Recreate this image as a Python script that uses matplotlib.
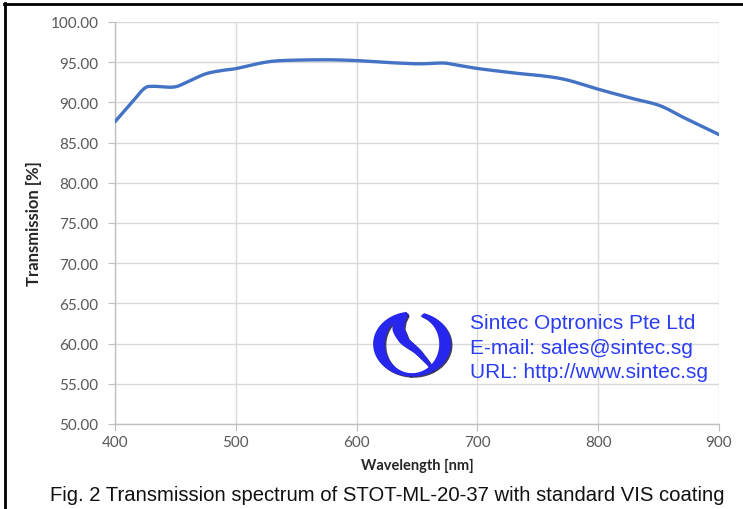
import numpy as np
import matplotlib
matplotlib.use("Agg")
import matplotlib.pyplot as plt
from matplotlib.patches import Polygon
from matplotlib.lines import Line2D

# ---- data ----
wavelength = [400, 414, 424, 431, 448, 458, 474, 488, 500, 521, 538, 574, 600,
              621, 651, 671, 681, 701, 734, 754, 774, 801, 828, 851, 871, 900]
transmission = [87.6, 90.0, 91.7, 92.0, 91.9, 92.4, 93.5, 93.96, 94.2, 94.9, 95.2,
                95.3, 95.2, 95.0, 94.8, 94.9, 94.7, 94.2, 93.6, 93.3, 92.8, 91.6,
                90.5, 89.6, 88.1, 86.0]
x_ticks = [400, 500, 600, 700, 800, 900]
y_ticks = [50, 55, 60, 65, 70, 75, 80, 85, 90, 95, 100]
x_label = "Wavelength [nm]"
y_label = "Transmission [%]"
caption = "Fig. 2 Transmission spectrum of STOT-ML-20-37 with standard VIS coating"
company_lines = ["Sintec Optronics Pte Ltd", "E-mail: sales@sintec.sg",
                 "URL: http://www.sintec.sg"]

W, H = 743, 510
fig = plt.figure(figsize=(W / 100, H / 100), dpi=100)

def fx(px):
    return px / W

def fy(py):
    return 1 - py / H

ax = fig.add_axes([fx(115), fy(425), fx(719) - fx(115), fy(23) - fy(425)])

def catmull(xs, ys, n=20):
    px, py = [], []
    P = list(zip(xs, ys))
    P = [P[0]] + P + [P[-1]]
    for i in range(1, len(P) - 2):
        p0, p1, p2, p3 = map(np.array, (P[i - 1], P[i], P[i + 1], P[i + 2]))
        for t in np.linspace(0, 1, n, endpoint=False):
            t2, t3 = t * t, t * t * t
            pt = 0.5 * ((2 * p1) + (-p0 + p2) * t + (2 * p0 - 5 * p1 + 4 * p2 - p3) * t2
                        + (-p0 + 3 * p1 - 3 * p2 + p3) * t3)
            px.append(pt[0]); py.append(pt[1])
    px.append(P[-2][0]); py.append(P[-2][1])
    return px, py

sx, sy = catmull(wavelength, transmission)
ax.plot(sx, sy, color="#4472C4", lw=2.4, solid_capstyle="round", zorder=3)

ax.set_xlim(400, 900)
ax.set_ylim(50, 100)
ax.set_xticks(x_ticks)
ax.set_yticks(y_ticks)
ax.set_yticklabels([f"{v:.2f}" for v in y_ticks])
ax.grid(True, color="#D9D9D9", lw=1.0)
ax.set_axisbelow(True)
for s in ["top", "right"]:
    ax.spines[s].set_visible(False)
for s in ["left", "bottom"]:
    ax.spines[s].set_color("#BFBFBF")
    ax.spines[s].set_linewidth(1.0)
ax.tick_params(axis="y", length=5, color="#BFBFBF", labelsize=11, labelcolor="#595959", pad=7)
ax.tick_params(axis="x", length=5, color="#BFBFBF", labelsize=11, labelcolor="#595959", pad=3)
for lbl in ax.get_xticklabels() + ax.get_yticklabels():
    lbl.set_fontfamily("Lato")

ax.set_xlabel(x_label, fontsize=10.5, fontweight="bold", family="Lato", color="#262626", labelpad=6)
ax.set_ylabel(y_label, fontsize=12, fontweight="bold", family="Lato", color="#262626", labelpad=6)

# caption
fig.text(fx(387), fy(496), caption, ha="center", va="center", fontsize=14.6,
         family="Liberation Sans", color="#111111")

# company text
for i, t in enumerate(company_lines):
    fig.text(fx(470), fy(324 + i * 24.5), t, ha="left", va="center", fontsize=15,
             family="Liberation Sans", color="#2B3CF5")

# ---- logo ----
lax = fig.add_axes([fx(370), fy(380), fx(454) - fx(370), fy(310) - fy(380)])
lax.set_xlim(-1.08, 1.08)
lax.set_ylim(-1.08, 1.08)
lax.axis("off")
BLUE, DARK = "#2626EE", "#0A0A3A"

shapes = []
# left arc
t1 = np.radians(np.linspace(98, 268, 80))
outer = np.c_[np.cos(t1), np.sin(t1)]
t2 = t1[::-1]
inner = np.c_[0.0 + 0.70 * np.cos(t2), 0.90 * np.sin(t2)]
shapes.append(np.vstack([outer, inner]))
# right arc
t1 = np.radians(np.linspace(72, -95, 80))
outer = np.c_[np.cos(t1), np.sin(t1)]
t2 = t1[::-1]
inner = np.c_[0.0 + 0.70 * np.cos(t2), 0.90 * np.sin(t2)]
shapes.append(np.vstack([outer, inner]))
# S-shaped tail from the top of the left arc down to lower right
kx = np.array([-0.15, -0.33, -0.36, -0.21, 0.12, 0.42, 0.52])
ky = np.array([0.92, 0.72, 0.45, 0.1, -0.2, -0.6, -0.82])
kn = np.linspace(0, 1, len(kx))
s = np.linspace(0, 1, 80)
px = np.interp(s, kn, kx)
py = np.interp(s, kn, ky)
for _ in range(5):
    px[1:-1] = (px[:-2] + px[1:-1] + px[2:]) / 3
    py[1:-1] = (py[:-2] + py[1:-1] + py[2:]) / 3
dx, dy = np.gradient(px), np.gradient(py)
nrm = np.hypot(dx, dy)
nx, ny = -dy / nrm, dx / nrm
hw = 0.02 + 0.13 * np.clip((1 - s) / 0.6, 0, 1)
hw = np.where(s < 0.15, 0.06 + (0.15 - 0.06) * s / 0.15, hw)
shapes.append(np.vstack([np.c_[px + nx * hw, py + ny * hw],
                         np.c_[px - nx * hw, py - ny * hw][::-1]]))

for pts in shapes:
    lax.add_patch(Polygon(pts + np.array([0.04, -0.04]), closed=True,
                          facecolor=DARK, edgecolor="none", alpha=0.8))
for pts in shapes:
    lax.add_patch(Polygon(pts, closed=True, facecolor=BLUE, edgecolor="none"))

# outer border lines (top and left)
fig.add_artist(Line2D([fx(4), 1], [fy(5), fy(5)], color="black", lw=2.0))
fig.add_artist(Line2D([fx(5), fx(5)], [fy(4), 0], color="black", lw=2.0))

fig.savefig("out.png", dpi=100, facecolor="white")
